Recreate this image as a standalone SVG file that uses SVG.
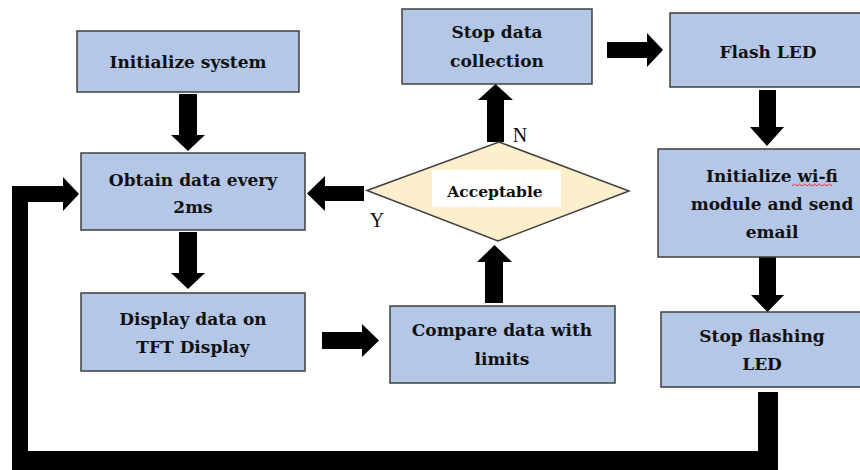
<svg xmlns="http://www.w3.org/2000/svg" width="860" height="470" viewBox="0 0 860 470">
<style>
.box{fill:#b4c7e7;stroke:#3f3f3f;stroke-width:1.5}
.dia{fill:#fdefcc;stroke:#3f3f3f;stroke-width:1.5}
.t{font-family:"DejaVu Serif","Liberation Serif",serif;font-weight:bold;font-size:17px;fill:#111;text-anchor:middle}
.lab{font-family:"Liberation Serif",serif;font-size:20px;fill:#111;text-anchor:middle}
.arr{fill:#000}
</style>
<rect width="860" height="470" fill="#fff"/>
<g id="connectors">
<polygon class="arr" points="179,94 197,94 197,135 205,135 188,151 171,135 179,135"/>
<polygon class="arr" points="179,232 197,232 197,273 205,273 188,289 171,273 179,273"/>
<polygon class="arr" points="364,186 325,186 325,176 307,193.5 325,211 325,201 364,201"/>
<polygon class="arr" points="487,142 504,142 504,100 513,100 495.5,84 478,100 487,100"/>
<polygon class="arr" points="607,42 647,42 647,33 663,50 647,67 647,58 607,58"/>
<polygon class="arr" points="759,90 776,90 776,127 784,127 767,146 750,127 759,127"/>
<polygon class="arr" points="759,257 776,257 776,295 784,295 767.5,312 751,295 759,295"/>
<polygon class="arr" points="485,303 503,303 503,262 512,262 494.5,245 477,262 485,262"/>
<polygon class="arr" points="322,332 362,332 362,324 379,340.5 362,357 362,349 322,349"/>
<polygon class="arr" points="758,392 778,392 778,470 12,470 12,186 63,186 63,177 79,194 63,211 63,202 28,202 28,451 758,451"/>
</g>
<g id="init">
<rect class="box" x="77" y="31" width="222" height="61"/>
<text class="t" x="188" y="68">Initialize system</text>
</g>
<g id="obtain">
<rect class="box" x="81" y="153" width="224" height="77"/>
<text class="t" x="193" y="186">Obtain data every</text>
<text class="t" x="193" y="213">2ms</text>
</g>
<g id="display">
<rect class="box" x="81" y="293" width="224" height="78"/>
<text class="t" x="193" y="325">Display data on</text>
<text class="t" x="193" y="353">TFT Display</text>
</g>
<g id="compare">
<rect class="box" x="390" y="306" width="225" height="77"/>
<text class="t" x="502" y="336">Compare data with</text>
<text class="t" x="502" y="365">limits</text>
</g>
<g id="acceptable">
<polygon class="dia" points="367,190.5 499,142 629,191 498,241"/>
<rect x="432" y="170" width="129" height="37" fill="#fff"/>
<text class="t" x="495" y="197" style="font-size:15.5px">Acceptable</text>
<text class="lab" x="377" y="227">Y</text>
<text class="lab" x="520" y="142">N</text>
</g>
<g id="stop-data">
<rect class="box" x="402" y="9" width="190" height="75"/>
<text class="t" x="497" y="38">Stop data</text>
<text class="t" x="497" y="67">collection</text>
</g>
<g id="flash">
<rect class="box" x="670" y="13" width="195" height="74"/>
<text class="t" x="768" y="58">Flash LED</text>
</g>
<g id="wifi">
<rect class="box" x="658" y="149" width="207" height="108"/>
<text class="t" x="772" y="182">Initialize wi-fi</text>
<text class="t" x="772" y="210">module and send</text>
<text class="t" x="772" y="238">email</text>
<path d="M792,186 l2.5,-2 l2.5,2 l2.5,-2 l2.5,2 l2.5,-2 l2.5,2 l2.5,-2 l2.5,2 l2.5,-2 l2.5,2 l2.5,-2 l2.5,2 l2.5,-2 l2.5,2 l2.5,-2 l2.5,2" fill="none" stroke="#e33" stroke-width="1"/>
</g>
<g id="stop-flash">
<rect class="box" x="661" y="312" width="204" height="75"/>
<text class="t" x="762" y="342">Stop flashing</text>
<text class="t" x="762" y="370">LED</text>
</g>
</svg>
